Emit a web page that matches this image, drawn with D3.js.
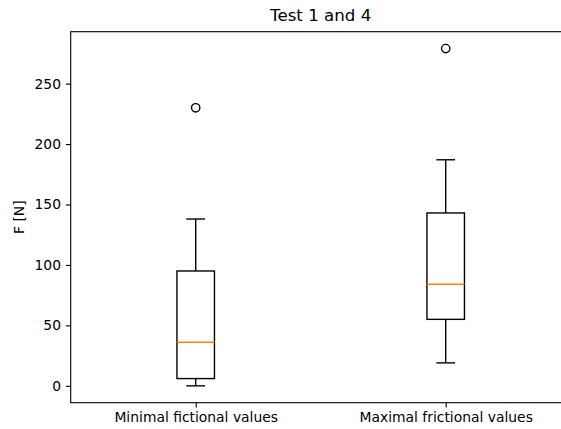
<!DOCTYPE html>
<html>
<head>
<meta charset="utf-8">
<script src="https://cdn.jsdelivr.net/npm/d3@7"></script>
<style>
  html, body { margin: 0; padding: 0; background: #ffffff; }
  svg { display: block; }
  text { font-family: "DejaVu Sans", sans-serif; fill: #000; }
</style>
</head>
<body>
<svg id="chart" width="561" height="429"></svg>
<script>
// ---- data ----
const categories = ["Minimal fictional values", "Maximal frictional values"];
const whiskerLow  = [0, 19];
const q1          = [6, 55];
const median      = [36, 84];
const q3          = [95, 143];
const whiskerHigh = [138, 187];
const outliers    = [[230], [279]];
const yTicks      = [0, 50, 100, 150, 200, 250];
const chartTitle  = "Test 1 and 4";
const yLabel      = "F [N]";

(function () {
  // ---- layout ----
  const W = 561, H = 429;
  const pLeft = 70.7, pRight = 570.7, pTop = 31.7, pBottom = 402.7;
  const pt = 100 / 72;

  const svg = d3.select("#chart");
  svg.append("rect").attr("width", W).attr("height", H).attr("fill", "#fff");

  const yMin = d3.min(whiskerLow), yMax = d3.max(outliers.flat());
  const margin = (yMax - yMin) * 0.05;
  const y = d3.scaleLinear().domain([yMin - margin, yMax + margin]).range([pBottom, pTop]);
  const x = d3.scaleLinear().domain([0.5, 2.5]).range([pLeft, pRight]);

  const boxW = x(1.15) - x(1);
  const capW = boxW / 2;
  const lw = 1 * pt;

  const g = svg.append("g");

  categories.forEach((c, i) => {
    const cx = x(i + 1);
    const stroke = "#000";
    g.append("line").attr("x1", cx).attr("x2", cx).attr("y1", y(q1[i])).attr("y2", y(whiskerLow[i]))
      .attr("stroke", stroke).attr("stroke-width", lw);
    g.append("line").attr("x1", cx).attr("x2", cx).attr("y1", y(q3[i])).attr("y2", y(whiskerHigh[i]))
      .attr("stroke", stroke).attr("stroke-width", lw);
    [whiskerLow[i], whiskerHigh[i]].forEach(v => {
      g.append("line").attr("x1", cx - capW / 2).attr("x2", cx + capW / 2).attr("y1", y(v)).attr("y2", y(v))
        .attr("stroke", stroke).attr("stroke-width", lw);
    });
    g.append("rect").attr("x", cx - boxW / 2).attr("width", boxW)
      .attr("y", y(q3[i])).attr("height", y(q1[i]) - y(q3[i]))
      .attr("fill", "none").attr("stroke", stroke).attr("stroke-width", lw);
    g.append("line").attr("x1", cx - boxW / 2).attr("x2", cx + boxW / 2)
      .attr("y1", y(median[i])).attr("y2", y(median[i]))
      .attr("stroke", "#ff7f0e").attr("stroke-width", lw);
    outliers[i].forEach(v => {
      g.append("circle").attr("cx", cx).attr("cy", y(v)).attr("r", 3 * pt)
        .attr("fill", "none").attr("stroke", stroke).attr("stroke-width", lw);
    });
  });

  // ---- axes ----
  const tickLen = 3.5 * pt, tickPad = 3.5 * pt;
  const yAxis = d3.axisLeft(y).tickValues(yTicks).tickSize(tickLen).tickPadding(tickPad).tickFormat(d3.format("d"));
  const yg = svg.append("g").attr("transform", `translate(${pLeft},0)`).call(yAxis);
  yg.select(".domain").remove();
  yg.selectAll(".tick line").attr("stroke", "#000").attr("stroke-width", 0.8 * pt);
  yg.selectAll(".tick text").attr("font-size", 10 * pt).attr("font-family", "DejaVu Sans").attr("fill", "#000");

  const xAxis = d3.axisBottom(x).tickValues([1, 2]).tickSize(tickLen).tickPadding(tickPad)
    .tickFormat((d) => categories[d - 1]);
  const xg = svg.append("g").attr("transform", `translate(0,${pBottom})`).call(xAxis);
  xg.select(".domain").remove();
  xg.selectAll(".tick line").attr("stroke", "#000").attr("stroke-width", 0.8 * pt);
  xg.selectAll(".tick text").attr("font-size", 10 * pt).attr("font-family", "DejaVu Sans").attr("fill", "#000");

  svg.append("rect").attr("x", pLeft).attr("y", pTop).attr("width", pRight - pLeft).attr("height", pBottom - pTop)
    .attr("fill", "none").attr("stroke", "#000").attr("stroke-width", 0.8 * pt);

  svg.append("text").attr("x", (pLeft + pRight) / 2).attr("y", 20.5).attr("text-anchor", "middle")
    .attr("font-size", 12 * pt).text(chartTitle);

  svg.append("text").attr("transform", `translate(24,${(pTop + pBottom) / 2}) rotate(-90)`)
    .attr("text-anchor", "middle").attr("font-size", 10 * pt).text(yLabel);
})();
</script>
</body>
</html>
